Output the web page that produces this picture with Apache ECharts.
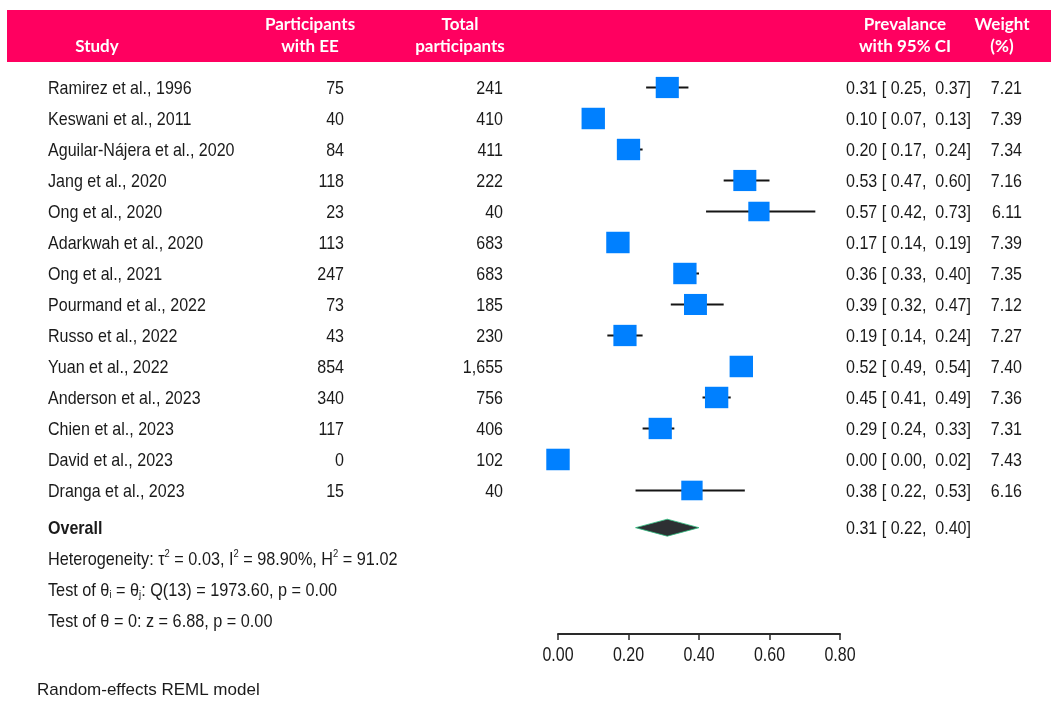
<!DOCTYPE html>
<html>
<head>
<meta charset="utf-8">
<script src="https://cdn.jsdelivr.net/npm/echarts@6/dist/echarts.min.js"></script>
<style>
  html, body { margin: 0; padding: 0; background: #ffffff; }
  #chart { width: 1051px; height: 701px; }
</style>
</head>
<body>
<div id="chart"></div>
<script>
// Forest plot: prevalence of EE by study, random-effects meta-analysis
const studies = [
  'Ramirez et al., 1996', 'Keswani et al., 2011', 'Aguilar-Nájera et al., 2020',
  'Jang et al., 2020', 'Ong et al., 2020', 'Adarkwah et al., 2020', 'Ong et al., 2021',
  'Pourmand et al., 2022', 'Russo et al., 2022', 'Yuan et al., 2022',
  'Anderson et al., 2023', 'Chien et al., 2023', 'David et al., 2023', 'Dranga et al., 2023'
];
const withEE = ['75', '40', '84', '118', '23', '113', '247', '73', '43', '854', '340', '117', '0', '15'];
const totals = ['241', '410', '411', '222', '40', '683', '683', '185', '230', '1,655', '756', '406', '102', '40'];
const estimates = [0.31, 0.10, 0.20, 0.53, 0.57, 0.17, 0.36, 0.39, 0.19, 0.52, 0.45, 0.29, 0.00, 0.38];
const lower = [0.25, 0.07, 0.17, 0.47, 0.42, 0.14, 0.33, 0.32, 0.14, 0.49, 0.41, 0.24, 0.00, 0.22];
const upper = [0.37, 0.13, 0.24, 0.60, 0.73, 0.19, 0.40, 0.47, 0.24, 0.54, 0.49, 0.33, 0.02, 0.53];
const weights = [7.21, 7.39, 7.34, 7.16, 6.11, 7.39, 7.35, 7.12, 7.27, 7.40, 7.36, 7.31, 7.43, 6.16];
const overallEstimate = [0.31, 0.22, 0.40];
const xTicks = [0, 0.2, 0.4, 0.6, 0.8];
const headers = [
  ['Study'], ['Participants', 'with EE'], ['Total', 'participants'],
  ['Prevalance', 'with 95% CI'], ['Weight', '(%)']
];

// Row layout (in row units on the y axis)
const nStudies = studies.length;
const overallRow = nStudies + 0.2;
const statRows = [overallRow + 1, overallRow + 2, overallRow + 3];

const FONT = "'Liberation Sans', Arial, Helvetica, sans-serif";
const BODY_SIZE = 19;
const SX = 0.845;         // body text is set slightly condensed
const INK = '#1a1a1a';
const PINK = '#ff0060';
const BLUE = '#0080ff';

function fmt(v) { return v.toFixed(2); }
function ciText(e, l, u) { return fmt(e) + ' [ ' + fmt(l) + ',  ' + fmt(u) + ']'; }

function txt(x, y, text, align, extra) {
  extra = extra || {};
  return {
    type: 'text', x: x, y: y + 1, scaleX: extra.scaleX || SX,
    style: {
      text: text, x: 0, y: 0,
      align: align, textAlign: align,
      verticalAlign: 'middle', textVerticalAlign: 'middle',
      font: (extra.weight || 'normal') + ' ' + (extra.size || BODY_SIZE) + 'px ' + FONT,
      fill: extra.fill || INK, textFill: extra.fill || INK,
      rich: extra.rich
    }
  };
}

// column anchors (px)
const COL_STUDY = 48, COL_EE = 344, COL_TOTAL = 503, COL_CI = 846, COL_W = 1022;

const chart = echarts.init(document.getElementById('chart'), null, { renderer: 'canvas' });

const studyRows = studies.map((s, i) => [estimates[i], lower[i], upper[i], i, weights[i]]);

const supRich = {
  sup: { fontSize: 11, fontFamily: FONT, fill: INK, textFill: INK, verticalAlign: 'top', padding: [0, 0, 11, 0] },
  sub: { fontSize: 11, fontFamily: FONT, fill: INK, textFill: INK, verticalAlign: 'bottom', padding: [7, 0, 0, 0] }
};
const statLines = [
  'Heterogeneity: τ{sup|2} = 0.03, I{sup|2} = 98.90%, H{sup|2} = 91.02',
  'Test of θ{sub|i} = θ{sub|j}: Q(13) = 1973.60, p = 0.00',
  'Test of θ = 0: z = 6.88, p = 0.00'
];

const headerX = [97, 310, 460, 905, 1002];
const headerGraphics = [{
  type: 'rect', left: 7, top: 10, z: 0,
  shape: { width: 1044, height: 52 },
  style: { fill: PINK }
}];
headers.forEach((lines, k) => {
  const ys = lines.length === 1 ? [47] : [25, 47];
  lines.forEach((line, j) => {
    headerGraphics.push({
      type: 'text', x: headerX[k], y: ys[j], z: 1,
      style: {
        text: line, textAlign: 'center', textVerticalAlign: 'middle',
        align: 'center', verticalAlign: 'middle',
        font: 'bold 17px Lato, "Open Sans", sans-serif', fill: '#ffffff'
      }
    });
  });
});
headerGraphics.push({
  type: 'text', x: 37, y: 690,
  style: {
    text: 'Random-effects REML model', textAlign: 'left', textVerticalAlign: 'middle',
    align: 'left', verticalAlign: 'middle',
    font: '17px ' + FONT, fill: INK
  }
});

const option = {
  animation: false,
  backgroundColor: '#ffffff',
  grid: { left: 558, right: 211, top: 72, bottom: 67, containLabel: false },
  xAxis: {
    type: 'value', min: 0, max: 0.8, interval: 0.2, position: 'bottom',
    axisLine: { show: true, onZero: false, lineStyle: { color: '#2a2a2a', width: 2 } },
    axisTick: { show: true, length: 6, inside: false, lineStyle: { color: '#2a2a2a', width: 1.5 } },
    axisLabel: { show: false },
    splitLine: { show: false }
  },
  yAxis: { type: 'value', inverse: true, min: -0.5, max: 17.63, show: false },
  graphic: headerGraphics,
  series: [
    {
      // confidence intervals and weighted squares
      type: 'custom', clip: false,
      data: studyRows,
      renderItem: function (params, api) {
        const row = api.value(3);
        const c = api.coord([api.value(0), row]);
        const l = api.coord([api.value(1), row]);
        const h = api.coord([api.value(2), row]);
        const r = Math.sqrt(api.value(4));
        const w = 8.6 * r, hh = 7.9 * r;
        return {
          type: 'group',
          children: [
            { type: 'line', shape: { x1: l[0], y1: c[1], x2: h[0], y2: c[1] },
              style: { stroke: '#151515', lineWidth: 2 } },
            { type: 'rect', shape: { x: c[0] - w / 2, y: c[1] - hh / 2, width: w, height: hh },
              style: { fill: BLUE } }
          ]
        };
      }
    },
    {
      // pooled estimate diamond
      type: 'custom', clip: false,
      data: [[overallEstimate[0], overallEstimate[1], overallEstimate[2], overallRow]],
      renderItem: function (params, api) {
        const row = api.value(3);
        const e = api.coord([api.value(0), row]);
        const l = api.coord([api.value(1), row]);
        const h = api.coord([api.value(2), row]);
        const half = 8.5;
        return {
          type: 'polygon',
          shape: { points: [[l[0], e[1]], [e[0], e[1] - half], [h[0], e[1]], [e[0], e[1] + half]] },
          style: { fill: '#2d3033', stroke: '#2fbf80', lineWidth: 0.8 }
        };
      }
    },
    {
      // per-study text columns
      type: 'custom', clip: false,
      data: studies.map((s, i) => [0, i]),
      renderItem: function (params, api) {
        const i = params.dataIndex;
        const y = api.coord([0, api.value(1)])[1];
        return {
          type: 'group',
          children: [
            txt(COL_STUDY, y, studies[i], 'left'),
            txt(COL_EE, y, withEE[i], 'right'),
            txt(COL_TOTAL, y, totals[i], 'right'),
            txt(COL_CI, y, ciText(estimates[i], lower[i], upper[i]), 'left'),
            txt(COL_W, y, weights[i].toFixed(2), 'right')
          ]
        };
      }
    },
    {
      // overall row and heterogeneity statistics
      type: 'custom', clip: false,
      data: [[0, overallRow]],
      renderItem: function (params, api) {
        const y0 = api.coord([0, overallRow])[1];
        const children = [
          txt(COL_STUDY, y0, 'Overall', 'left', { weight: 'bold' }),
          txt(COL_CI, y0, ciText(overallEstimate[0], overallEstimate[1], overallEstimate[2]), 'left')
        ];
        statLines.forEach((s, k) => {
          const y = api.coord([0, statRows[k]])[1];
          children.push(txt(COL_STUDY, y, s, 'left', { rich: supRich, scaleX: 0.855 }));
        });
        return { type: 'group', children: children };
      }
    },
    {
      // x-axis tick labels
      type: 'custom', clip: false,
      data: xTicks.map(t => [t]),
      renderItem: function (params, api) {
        const t = api.value(0);
        const p = api.coord([t, 17.63]);
        return txt(p[0], p[1] + 20, fmt(t), 'center', { scaleX: 0.8, size: 20 });
      }
    }
  ]
};

chart.setOption(option);
</script>
</body>
</html>
